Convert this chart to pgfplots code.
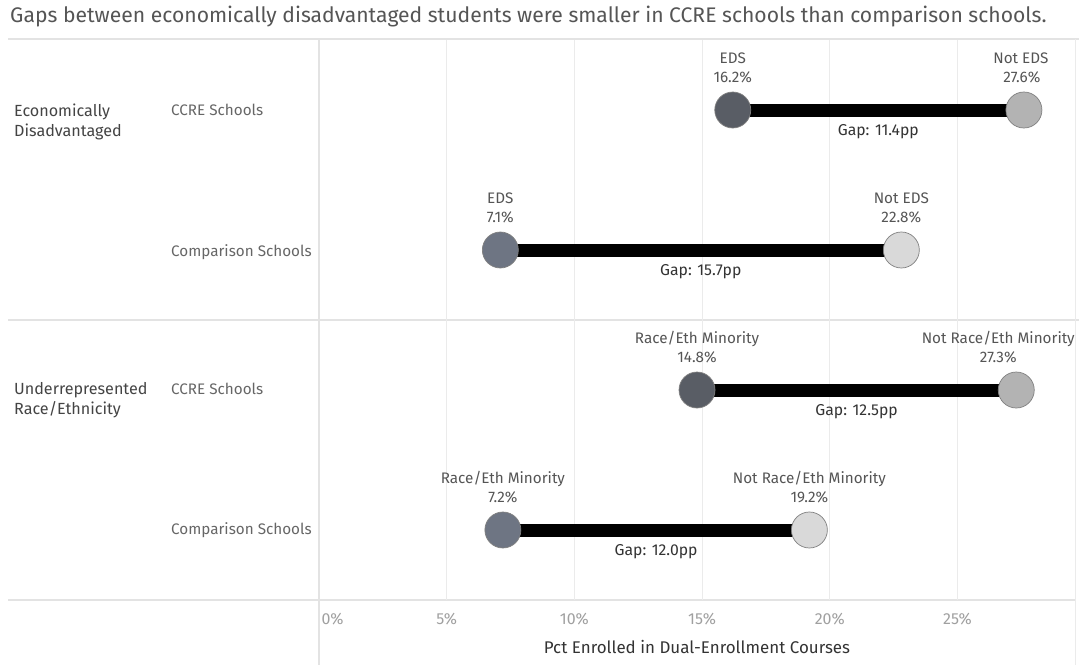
\documentclass[border=0pt]{standalone}
\usepackage{pgfplots}
\pgfplotsset{compat=1.18}
\usepackage{fontspec}
\setmainfont{Fira Sans}
\definecolor{gridc}{HTML}{EBEBEB}
\definecolor{sepc}{HTML}{E3E3E3}
\definecolor{txt}{HTML}{555555}
\definecolor{hdr}{HTML}{444444}
\definecolor{sub}{HTML}{666666}
\definecolor{tickc}{HTML}{A0A0A0}
\definecolor{gapc}{HTML}{333333}
\definecolor{darkA}{HTML}{595D65}
\definecolor{darkB}{HTML}{6E7583}
\definecolor{lightA}{HTML}{B3B3B3}
\definecolor{lightB}{HTML}{D9D9D9}
\definecolor{edgec}{HTML}{808080}
\newcommand{\fs}[1]{\fontsize{#1}{#1}\selectfont}
\begin{document}
\begin{tikzpicture}
\path[use as bounding box, fill=white] (0bp,0bp) rectangle (1079bp,671bp);
% frame lines
\draw[sepc, line width=1.5bp] (8bp,632bp) -- (1079bp,632bp);
\draw[sepc, line width=1.5bp] (8bp,351bp) -- (1079bp,351bp);
\draw[sepc, line width=1.5bp] (8bp,71bp) -- (1075bp,71bp);
\draw[sepc, line width=1.2bp] (319bp,632bp) -- (319bp,6bp);
\draw[gridc, line width=1bp] (1075bp,632bp) -- (1075bp,6bp);
% title
\node[anchor=base west, inner sep=0pt, text=txt, font=\fs{21.2}] at (10bp,648bp) {Gaps between economically disadvantaged students were smaller in CCRE schools than comparison schools.};
% headers
\node[anchor=base west, inner sep=0pt, text=hdr, font=\fs{16.2}] at (14bp,554bp) {Economically};
\node[anchor=base west, inner sep=0pt, text=hdr, font=\fs{16.2}] at (14bp,534bp) {Disadvantaged};
\node[anchor=base west, inner sep=0pt, text=sub, font=\fs{15.3}] at (171bp,555bp) {CCRE Schools};
\node[anchor=base west, inner sep=0pt, text=sub, font=\fs{15.3}] at (171bp,414bp) {Comparison Schools};
\node[anchor=base west, inner sep=0pt, text=hdr, font=\fs{16.2}] at (14bp,276bp) {Underrepresented};
\node[anchor=base west, inner sep=0pt, text=hdr, font=\fs{16.2}] at (14bp,256bp) {Race/Ethnicity};
\node[anchor=base west, inner sep=0pt, text=sub, font=\fs{15.3}] at (171bp,276bp) {CCRE Schools};
\node[anchor=base west, inner sep=0pt, text=sub, font=\fs{15.3}] at (171bp,136bp) {Comparison Schools};
% x axis title
\node[anchor=base, inner sep=0pt, text=gapc, font=\fs{17}] at (697bp,18bp) {Pct Enrolled in Dual-Enrollment Courses};
\begin{axis}[
  at={(319bp,71bp)}, anchor=south west,
  scale only axis, width=756bp, height=560bp,
  xmin=0, xmax=29.6, ymin=0.5, ymax=4.5, y dir=reverse,
  axis line style={draw=none},
  ytick=\empty,
  xtick={5,10,15,20,25},
  xticklabels={5\%,10\%,15\%,20\%,25\%},
  extra x ticks={0},
  extra x tick labels={0\%},
  extra x tick style={grid=none, xticklabel style={anchor=north west, xshift=-1bp}},
  xmajorgrids, grid style={gridc, line width=1bp},
  major tick length=0pt,
  xticklabel style={text=tickc, font=\fs{16}, yshift=-10bp},
  /pgf/number format/assume math mode=true,
  clip=false,
]
% gap bars
\addplot[black, line width=13bp, forget plot] coordinates {(16.2,1) (27.6,1)};
\addplot[black, line width=13bp, forget plot] coordinates {(7.1,2) (22.8,2)};
\addplot[black, line width=13bp, forget plot] coordinates {(14.8,3) (27.3,3)};
\addplot[black, line width=13bp, forget plot] coordinates {(7.2,4) (19.2,4)};
% dots
\addplot[only marks, mark=*, mark size=18bp, mark options={fill=darkA, draw=edgec, line width=0.7bp}] coordinates {(16.2,1) (14.8,3)};
\addplot[only marks, mark=*, mark size=18bp, mark options={fill=darkB, draw=edgec, line width=0.7bp}] coordinates {(7.1,2) (7.2,4)};
\addplot[only marks, mark=*, mark size=18bp, mark options={fill=lightA, draw=edgec, line width=0.7bp}] coordinates {(27.6,1) (27.3,3)};
\addplot[only marks, mark=*, mark size=18bp, mark options={fill=lightB, draw=edgec, line width=0.7bp}] coordinates {(22.8,2) (19.2,4)};
% labels
\tikzset{nm/.style={anchor=base, inner sep=0pt, text=txt, font=\fs{15.3}}, gp/.style={anchor=base, inner sep=0pt, text=gapc, font=\fs{15.8}}}
\node[nm, yshift=47bp] at (axis cs:16.2,1) {EDS};
\node[nm, yshift=28bp] at (axis cs:16.2,1) {16.2\%};
\node[nm, yshift=47bp, xshift=-3bp] at (axis cs:27.6,1) {Not EDS};
\node[nm, yshift=28bp, xshift=-2bp] at (axis cs:27.6,1) {27.6\%};
\node[gp, yshift=-25bp] at (axis cs:21.9,1) {Gap: 11.4pp};
\node[nm, yshift=47bp] at (axis cs:7.1,2) {EDS};
\node[nm, yshift=28bp] at (axis cs:7.1,2) {7.1\%};
\node[nm, yshift=47bp] at (axis cs:22.8,2) {Not EDS};
\node[nm, yshift=28bp] at (axis cs:22.8,2) {22.8\%};
\node[gp, yshift=-25bp] at (axis cs:14.95,2) {Gap: 15.7pp};
\node[nm, yshift=47bp] at (axis cs:14.8,3) {Race/Eth Minority};
\node[nm, yshift=28bp] at (axis cs:14.8,3) {14.8\%};
\node[nm, yshift=47bp, xshift=-18bp] at (axis cs:27.3,3) {Not Race/Eth Minority};
\node[nm, yshift=28bp, xshift=-18bp] at (axis cs:27.3,3) {27.3\%};
\node[gp, yshift=-25bp] at (axis cs:21.05,3) {Gap: 12.5pp};
\node[nm, yshift=47bp] at (axis cs:7.2,4) {Race/Eth Minority};
\node[nm, yshift=28bp] at (axis cs:7.2,4) {7.2\%};
\node[nm, yshift=47bp] at (axis cs:19.2,4) {Not Race/Eth Minority};
\node[nm, yshift=28bp] at (axis cs:19.2,4) {19.2\%};
\node[gp, yshift=-25bp] at (axis cs:13.2,4) {Gap: 12.0pp};
\end{axis}
\end{tikzpicture}
\end{document}
